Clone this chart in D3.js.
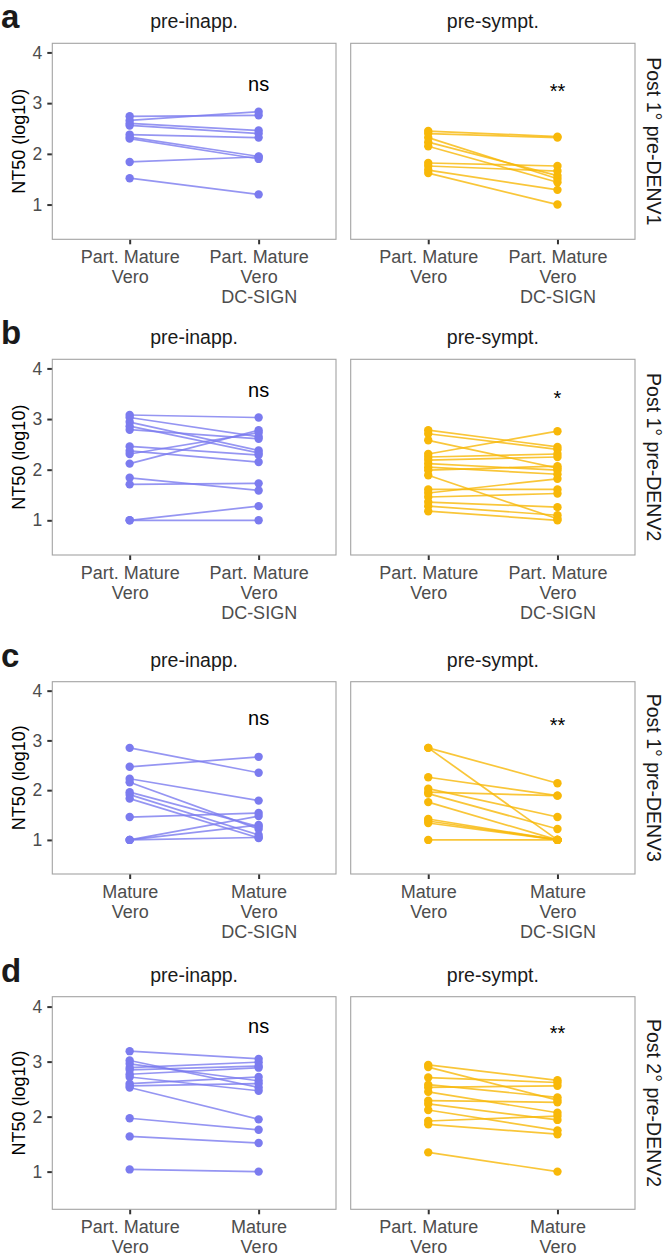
<!DOCTYPE html>
<html>
<head>
<meta charset="utf-8">
<script src="https://cdn.jsdelivr.net/npm/d3@7"></script>
<style>
  html, body { margin: 0; padding: 0; background: #ffffff; }
  svg { display: block; font-family: "Liberation Sans", Arial, Helvetica, sans-serif; }
</style>
</head>
<body>
<svg id="chart" width="666" height="1259"></svg>
<script>
// ---------------- DATA ----------------
const panelLetters = ["a", "b", "c", "d"];
const groups = ["pre-inapp.", "pre-sympt."];
const rowLabels = ["Post 1\u00B0 pre-DENV1", "Post 1\u00B0 pre-DENV2", "Post 1\u00B0 pre-DENV3", "Post 2\u00B0 pre-DENV2"];
const catsPartDC = ["Part. Mature\nVero", "Part. Mature\nVero\nDC-SIGN"];
const catsMatDC = ["Mature\nVero", "Mature\nVero\nDC-SIGN"];
const catsPartMat = ["Part. Mature\nVero", "Mature\nVero"];
const yTicks = [1, 2, 3, 4];
const sigLabels = [["ns", "**"], ["ns", "*"], ["ns", "**"], ["ns", "**"]];
const sigY = [3.39, 3.57, 3.45, 3.65];

// Row a: Post 1° pre-DENV1
const aInappBefore = [2.74, 2.66, 2.60, 2.56, 2.38, 2.33, 2.30, 1.84, 1.52];
const aInappAfter  = [2.76, 2.83, 2.46, 2.40, 2.32, 1.95, 1.90, 1.94, 1.20];
const aSymptBefore = [2.45, 2.40, 2.32, 2.23, 2.15, 1.82, 1.76, 1.68, 1.62];
const aSymptAfter  = [2.34, 2.32, 1.51, 1.57, 1.44, 1.76, 1.66, 1.29, 1.00];

// Row b: Post 1° pre-DENV2
const bInappBefore = [3.08, 3.03, 2.94, 2.86, 2.79, 2.46, 2.37, 2.31, 2.12, 1.84, 1.71, 1.00, 1.00];
const bInappAfter  = [3.03, 2.65, 2.38, 2.33, 2.61, 2.29, 2.15, 2.73, 2.78, 1.59, 1.73, 1.28, 1.00];
const bSymptBefore = [2.78, 2.71, 2.58, 2.31, 2.25, 2.19, 2.12, 2.05, 1.99, 1.89, 1.61, 1.54, 1.46, 1.36, 1.28, 1.18];
const bSymptAfter  = [2.45, 2.40, 2.03, 2.76, 2.31, 2.25, 1.99, 1.91, 2.07, 1.03, 1.61, 1.82, 1.53, 1.26, 1.10, 1.00];

// Row c: Post 1° pre-DENV3
const cInappBefore = [2.85, 2.47, 2.23, 2.16, 1.96, 1.91, 1.83, 1.46, 1.00, 1.00, 1.00];
const cInappAfter  = [2.35, 2.67, 1.79, 1.22, 1.27, 1.10, 1.04, 1.54, 1.48, 1.30, 1.05];
const cSymptBefore = [2.85, 2.85, 2.26, 2.03, 1.96, 1.93, 1.76, 1.42, 1.38, 1.34, 1.00];
const cSymptAfter  = [2.14, 1.00, 1.89, 1.46, 1.89, 1.22, 1.00, 1.00, 1.00, 1.00, 1.00];

// Row d: Post 2° pre-DENV2
const dInappBefore = [3.19, 3.02, 2.96, 2.89, 2.85, 2.77, 2.72, 2.60, 2.56, 2.53, 1.97, 1.64, 1.04];
const dInappAfter  = [3.05, 2.53, 2.65, 2.99, 2.92, 2.89, 2.47, 2.72, 2.60, 1.95, 1.76, 1.52, 1.00];
const dSymptBefore = [2.94, 2.90, 2.71, 2.58, 2.53, 2.45, 2.29, 2.23, 2.12, 1.92, 1.86, 1.35];
const dSymptAfter  = [2.66, 2.30, 2.62, 2.35, 2.56, 2.07, 2.26, 1.94, 1.75, 2.01, 1.68, 1.00];

// ---------------- LAYOUT ----------------
const rowCats = [catsPartDC, catsPartDC, catsMatDC, catsPartMat];
const rowData = [
  [[aInappBefore, aInappAfter], [aSymptBefore, aSymptAfter]],
  [[bInappBefore, bInappAfter], [bSymptBefore, bSymptAfter]],
  [[cInappBefore, cInappAfter], [cSymptBefore, cSymptAfter]],
  [[dInappBefore, dInappAfter], [dSymptBefore, dSymptAfter]]
];
const rowTop = [43.3, 359.3, 681.7, 996.7];
const rowBottom = [239.3, 555, 874, 1209.3];
const colX = [[52.3, 336], [350.7, 635]];
const colors = ["#7b7bef", "#f8b808"];
const yDomain = [0.315, 4.18];

const svg = d3.select("#chart");

rowData.forEach((rowPanels, r) => {
  const top = rowTop[r], bottom = rowBottom[r];
  const y = d3.scaleLinear().domain(yDomain).range([bottom, top]);

  // panel letter
  svg.append("text")
    .attr("x", 1).attr("y", top - 15)
    .attr("font-size", 33).attr("font-weight", "bold").attr("fill", "#1a1a1a")
    .text(panelLetters[r]);

  // y axis title
  svg.append("text")
    .attr("transform", `translate(25,${(top + bottom) / 2}) rotate(-90)`)
    .attr("text-anchor", "middle").attr("font-size", 18).attr("fill", "#000")
    .text("NT50 (log10)");

  // right strip label
  svg.append("text")
    .attr("transform", `translate(646.5,${(top + bottom) / 2}) rotate(90)`)
    .attr("text-anchor", "middle").attr("font-size", 19.5).attr("fill", "#1a1a1a")
    .text(rowLabels[r]);

  rowPanels.forEach((pair, c) => {
    const [x0, x1] = colX[c];
    const x = d3.scalePoint().domain(rowCats[r]).range([x0, x1]).padding(0.6);
    const g = svg.append("g");

    // strip title
    g.append("text")
      .attr("x", (x0 + x1) / 2).attr("y", top - 15)
      .attr("text-anchor", "middle").attr("font-size", 19.5).attr("fill", "#1a1a1a")
      .text(groups[c]);

    // panel background
    g.append("rect")
      .attr("x", x0).attr("y", top).attr("width", x1 - x0).attr("height", bottom - top)
      .attr("fill", "#ffffff");

    // y axis (left column only)
    if (c === 0) {
      const ya = g.append("g").attr("transform", `translate(${x0},0)`)
        .call(d3.axisLeft(y).tickValues(yTicks).tickSize(5).tickPadding(5).tickFormat(d3.format("d")));
      ya.select(".domain").remove();
      ya.selectAll(".tick line").attr("stroke", "#333333").attr("stroke-width", 2);
      ya.selectAll(".tick text").attr("font-size", 17.5).attr("fill", "#4d4d4d")
        .attr("font-family", "Liberation Sans, Arial, sans-serif");
    }

    // x axis
    const xa = g.append("g").attr("transform", `translate(0,${bottom})`)
      .call(d3.axisBottom(x).tickSize(5).tickFormat(""));
    xa.select(".domain").remove();
    xa.selectAll(".tick line").attr("stroke", "#333333").attr("stroke-width", 2);
    xa.selectAll(".tick").each(function (d) {
      const t = d3.select(this).append("text")
        .attr("text-anchor", "middle").attr("font-size", 18).attr("fill", "#4d4d4d");
      d.split("\n").forEach((line, i) => {
        t.append("tspan").attr("x", 0).attr("y", 23.5 + i * 20).text(line);
      });
    });

    // lines and points
    const [before, after] = pair;
    const cats = rowCats[r];
    const segs = before.map((v, i) => [[cats[0], v], [cats[1], after[i]]]);
    const lineGen = d3.line().x(d => x(d[0])).y(d => y(d[1]));
    g.append("g").selectAll("path").data(segs).join("path")
      .attr("d", lineGen)
      .attr("fill", "none").attr("stroke", colors[c]).attr("stroke-width", 1.7)
      .attr("stroke-opacity", 0.8);
    const pts = segs.flat();
    g.append("g").selectAll("circle").data(pts).join("circle")
      .attr("cx", d => x(d[0])).attr("cy", d => y(d[1])).attr("r", 4.2)
      .attr("fill", colors[c]);

    // significance label
    const lab = sigLabels[r][c];
    g.append("text")
      .attr("x", x(cats[1])).attr("y", y(sigY[r]))
      .attr("dy", lab === "ns" ? "0.36em" : "0.72em")
      .attr("text-anchor", "middle").attr("font-size", 20).attr("fill", "#000")
      .text(lab);

    // panel border
    g.append("rect")
      .attr("x", x0).attr("y", top).attr("width", x1 - x0).attr("height", bottom - top)
      .attr("fill", "none").attr("stroke", "#a3a3a3").attr("stroke-width", 1.1);
  });
});
</script>
</body>
</html>
